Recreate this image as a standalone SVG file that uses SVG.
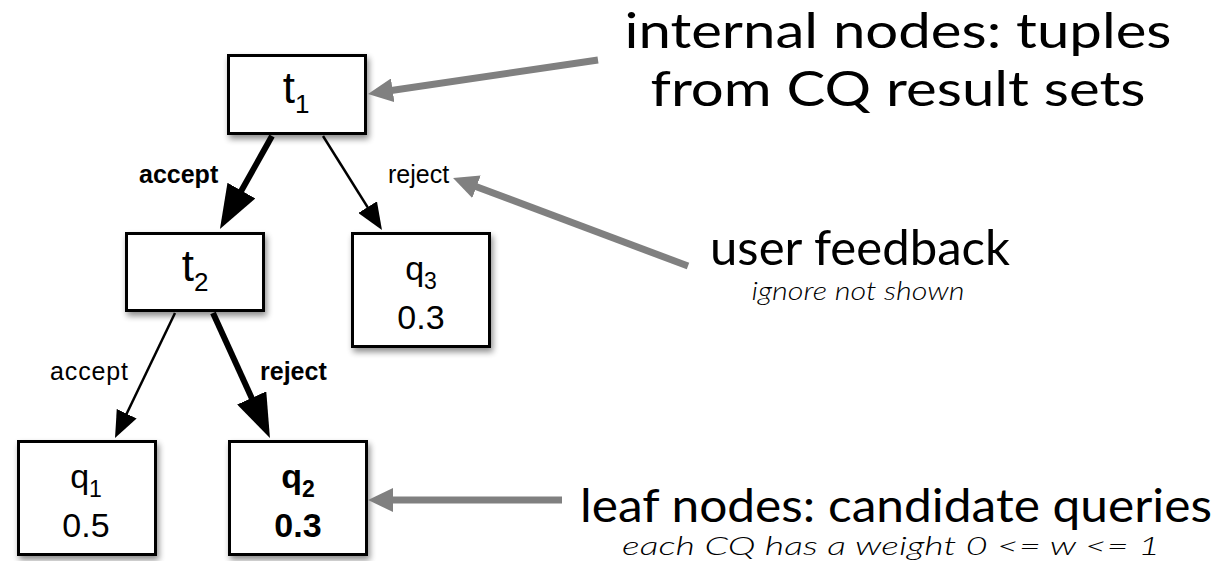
<svg xmlns="http://www.w3.org/2000/svg" width="1220" height="561" viewBox="0 0 1220 561">
  <style>
    .box { fill: #ffffff; stroke: #000000; stroke-width: 3; filter: url(#shadow); }
    .nt { font-family: "Liberation Sans", Arial, sans-serif; fill: #000000; text-anchor: middle; }
    .tn { font-size: 44px; }
    .qn { font-size: 34px; }
    .sub { font-size: 26px; }
    .qsub { font-size: 23px; }
    .b { font-weight: bold; }
    .elabel { font-family: "Liberation Sans", Arial, sans-serif; font-size: 25px; fill: #000000; }
    .edge { fill: none; stroke: #000000; }
    .thin { stroke-width: 2.5; }
    .thick { stroke-width: 6; }
    .callout { fill: none; stroke: #808080; stroke-width: 7; }
    .note { font-family: Lato, "Noto Sans", sans-serif; fill: #000000; text-anchor: middle; }
    .big { font-size: 48px; }
    .mid { font-size: 46px; }
    .small { font-size: 25px; font-style: italic; font-weight: 300; }
  </style>
  <defs>
    <filter id="shadow" x="-20%" y="-20%" width="150%" height="150%">
      <feGaussianBlur in="SourceAlpha" stdDeviation="3"/>
      <feOffset dx="2" dy="4" result="off"/>
      <feComponentTransfer><feFuncA type="linear" slope="0.45"/></feComponentTransfer>
      <feMerge><feMergeNode/><feMergeNode in="SourceGraphic"/></feMerge>
    </filter>
    <marker id="headBig" markerUnits="userSpaceOnUse" markerWidth="44" markerHeight="32" refX="14" refY="16" orient="auto">
      <path d="M0,0 L44,16 L0,32 z" fill="#000000"/>
    </marker>
    <marker id="headSmall" markerUnits="userSpaceOnUse" markerWidth="27" markerHeight="22" refX="9" refY="11" orient="auto">
      <path d="M0,0 L27,11 L0,22 z" fill="#000000"/>
    </marker>
    <marker id="headGray" markerUnits="userSpaceOnUse" markerWidth="25" markerHeight="24" refX="10" refY="12" orient="auto">
      <path d="M0,0 L25,12 L0,24 z" fill="#808080"/>
    </marker>
  </defs>

  <rect width="1220" height="561" fill="#ffffff"/>

  <!-- decision-tree edges -->
  <g id="connectors">
    <line class="edge thick" x1="272" y1="136" x2="234.6" y2="202.8" marker-end="url(#headBig)"/>
    <line class="edge thin" x1="323" y1="136" x2="372.4" y2="214.8" marker-end="url(#headSmall)"/>
    <line class="edge thin" x1="175" y1="313" x2="122.8" y2="421.8" marker-end="url(#headSmall)"/>
    <line class="edge thick" x1="213" y1="313" x2="257.5" y2="410.7" marker-end="url(#headBig)"/>
    <text class="elabel b" x="139" y="183">accept</text>
    <text class="elabel" x="388" y="183">reject</text>
    <text class="elabel" x="50" y="380" textLength="78">accept</text>
    <text class="elabel b" x="260" y="380">reject</text>
  </g>

  <!-- internal nodes -->
  <g id="node-t1">
    <rect class="box" x="228.5" y="55.5" width="137" height="78"/>
    <text class="nt tn" x="296" y="103">t<tspan class="sub" dy="10">1</tspan></text>
  </g>
  <g id="node-t2">
    <rect class="box" x="126.5" y="233.5" width="137" height="77"/>
    <text class="nt tn" x="195" y="281">t<tspan class="sub" dy="10">2</tspan></text>
  </g>

  <!-- leaf nodes -->
  <g id="node-q3">
    <rect class="box" x="352.5" y="233.5" width="137" height="113"/>
    <text class="nt qn" x="421" y="280">q<tspan class="qsub" dy="9">3</tspan></text>
    <text class="nt qn" x="421" y="329">0.3</text>
  </g>
  <g id="node-q1">
    <rect class="box" x="18.5" y="441.5" width="137" height="113"/>
    <text class="nt qn" x="86" y="488">q<tspan class="qsub" dy="9">1</tspan></text>
    <text class="nt qn" x="86" y="537">0.5</text>
  </g>
  <g id="node-q2">
    <rect class="box" x="229.5" y="441.5" width="137" height="113"/>
    <text class="nt qn b" x="298" y="488">q<tspan class="qsub" dy="9">2</tspan></text>
    <text class="nt qn b" x="298" y="537">0.3</text>
  </g>

  <!-- annotations -->
  <g id="callouts">
    <line class="callout" x1="598" y1="60" x2="382.8" y2="91.8" marker-end="url(#headGray)"/>
    <line class="callout" x1="688" y1="266" x2="467.1" y2="183.3" marker-end="url(#headGray)"/>
    <line class="callout" x1="562" y1="500" x2="383" y2="500" marker-end="url(#headGray)"/>
  </g>
  <g id="note-internal">
    <text class="note big" x="898" y="48" textLength="547" lengthAdjust="spacingAndGlyphs">internal nodes: tuples</text>
    <text class="note big" x="898" y="106" textLength="495" lengthAdjust="spacingAndGlyphs">from CQ result sets</text>
  </g>
  <g id="note-feedback">
    <text class="note big" x="860" y="265" textLength="300" lengthAdjust="spacingAndGlyphs">user feedback</text>
    <text class="note small" x="858" y="300" textLength="213" lengthAdjust="spacingAndGlyphs">ignore not shown</text>
  </g>
  <g id="note-leaf">
    <text class="note mid" x="896" y="522" textLength="632" lengthAdjust="spacingAndGlyphs">leaf nodes: candidate queries</text>
    <text class="note small" x="891" y="555" textLength="538" lengthAdjust="spacingAndGlyphs">each CQ has a weight 0 &lt;= w &lt;= 1</text>
  </g>
</svg>
